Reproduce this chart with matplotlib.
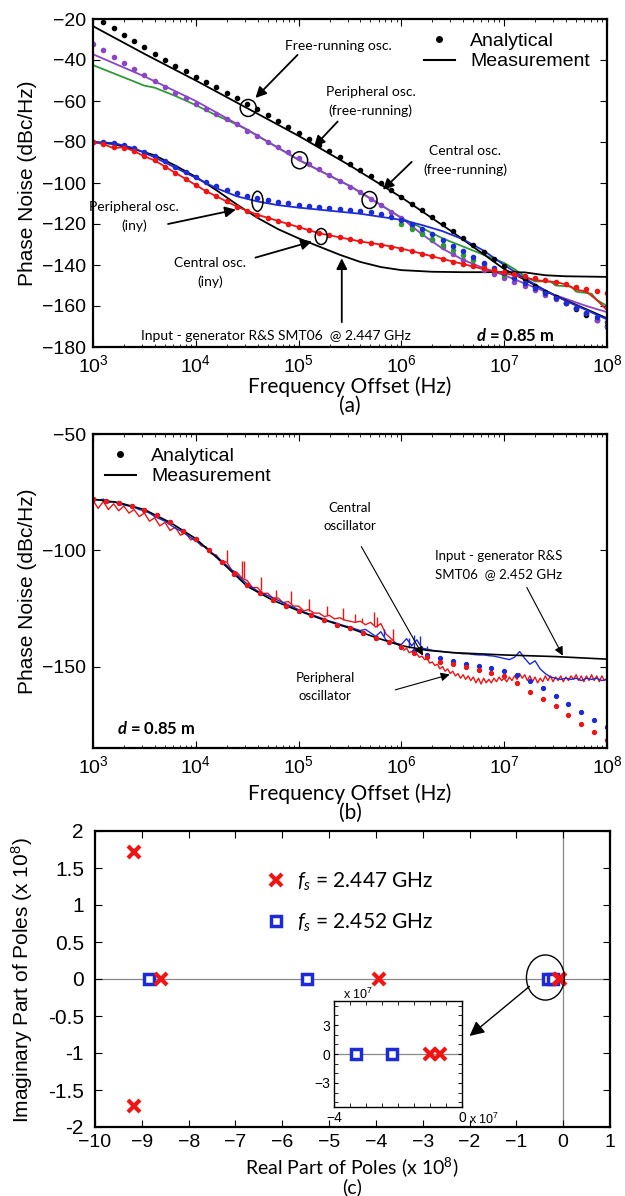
import numpy as np
import matplotlib
matplotlib.use("Agg")
import matplotlib.pyplot as plt
import matplotlib.transforms as mtransforms
from matplotlib.patches import Ellipse
from matplotlib.lines import Line2D

plt.rcParams['font.family'] = ['Liberation Sans', 'DejaVu Sans']
plt.rcParams['mathtext.fontset'] = 'custom'
plt.rcParams['mathtext.rm'] = 'Liberation Sans'
plt.rcParams['mathtext.it'] = 'Lato:italic'
plt.rcParams['mathtext.bf'] = 'Lato:bold'
plt.rcParams['mathtext.bfit'] = 'Lato:italic:bold'
CAL = 'Lato'

RED = '#f01414'
BLUE = '#1c2bd6'
PURPLE = '#8a45c8'
GREEN = '#2f9a33'

# ---------------- panel (a) data, x as log10(Hz) ----------------
fr_meas_e = [3.0, 3.5, 4.0, 4.5, 5.0, 5.5, 6.0, 6.5, 7.0, 7.5, 8.0]
fr_meas = [-23.5, -37, -50, -63.5, -77, -91.5, -107, -124, -142, -155, -166]
fr_dots = [-21.6, -24.6, -27.6, -30.7, -33.8, -36.9, -40.0, -43.0, -45.6, -48.2,
           -50.8, -53.4, -56.0, -58.6, -61.3, -64.0, -66.8, -69.6, -72.5, -75.5,
           -78.5, -81.5, -84.5, -87.5, -90.6, -93.7, -96.8, -100, -103.3, -106.6,
           -110, -113.4, -116.8, -120.2, -123.6, -127, -130.4, -133.8, -137.2, -140.6,
           -143.8, -147, -150, -153, -155.8, -158.6, -161.4, -164.2, -167, -169.8]

per_fr_e = [3.0, 3.5, 4.0, 4.5, 5.0, 5.5, 5.7, 6.0, 6.2, 6.4, 6.6, 6.8, 7.0, 7.2, 7.4, 7.6, 7.8, 8.0]
per_fr = [-37.2, -48, -60, -74, -88.7, -101.5, -107.5, -117, -125, -132, -137.5, -141.5,
          -145, -149, -153, -156.5, -160, -163]
per_fr_dots = [-32, -35.2, -38.3, -41.4, -44.4, -47.4, -50.3, -53.1, -55.9, -58.6,
               -61.3, -63.9, -66.4, -68.9, -71.4, -74.5, -77.2, -79.8, -82.4, -85,
               -87.8, -90.6, -93.4, -96.2, -99, -101.8, -104.6, -107.6, -110.8, -114,
               -117.2, -120.8, -124.4, -128, -131.4, -134.6, -137.4, -140, -142.3, -144.4,
               -146.4, -148.4, -150.4, -152.4, -154.4, -156.4, -158.6, -160.8, -163.4, -166.6, -170]

cen_fr_e = [3.0, 3.2, 3.4, 3.5, 3.6, 3.7, 3.8, 4.0, 4.2, 4.4, 4.5, 5.0, 5.5, 6.0,
            6.2, 6.4, 6.6, 6.8, 7.0, 7.1, 7.2, 7.3, 7.45, 7.5, 7.65, 7.7, 7.85, 7.9, 8.0]
cen_fr = [-42.5, -46.5, -50.5, -52.5, -53.5, -55.5, -57.5, -62, -67, -71.5, -74, -88.7,
          -101.5, -117, -122, -127, -131, -135, -139, -142, -145.5, -148, -148, -150,
          -150.5, -153, -154, -157, -160]
cen_fr_dots_e = [6.0, 6.1, 6.2, 6.3, 6.4, 6.5, 6.6, 6.7, 6.8, 6.9, 7.0]
cen_fr_dots = [-120, -122.5, -125, -127.5, -130, -132.5, -135, -137.5, -140, -142.5, -145]

per_iny_e = [3.0, 3.2, 3.4, 3.6, 3.8, 4.0, 4.2, 4.4, 4.6, 4.8, 5.0, 5.2, 5.4, 5.6, 5.8,
             6.0, 6.2, 6.4, 6.6, 6.8, 7.0, 7.2, 7.4, 7.6, 7.8, 8.0]
per_iny = [-80, -80.5, -83, -87.5, -92.5, -97.5, -102.5, -106.5, -109, -110.8, -112, -113,
           -114, -115, -116.5, -118, -120.5, -123.5, -127.5, -133, -140, -146.5, -152.5,
           -157.5, -162, -166.5]
per_iny_dots = [-80, -80, -80.5, -81.5, -83, -85, -87, -89.5, -92, -94.5,
                -97, -99.5, -101.5, -103.5, -105, -106.3, -107.4, -108.3, -109.1, -109.8,
                -110.5, -111, -111.5, -112, -112.5, -113, -113.6, -114.3, -115.2, -116.4,
                -118, -120, -122.4, -125, -127.8, -130.6, -133.4, -136.2, -139, -141.6,
                -144, -146.4, -148.8, -151.2, -153.6, -156, -158.4, -160.8, -163.2, -165.6, -168]

cen_iny = [-80, -81, -83, -82.5, -84.5, -87, -89, -92, -95, -98,
           -101, -104, -106.5, -109, -111.5, -113.5, -115.5, -117, -118.5, -120,
           -121.5, -123, -124.5, -125.5, -126.5, -127.5, -128.5, -129.3, -130, -131,
           -132, -133.2, -134.5, -135.8, -137, -138.3, -139.5, -140.8, -142, -143,
           -144, -145, -146.2, -147.2, -148, -148.3, -149.5, -152, -153, -157, -162]
cen_iny_dots = [-80, -81, -82.5, -83, -84.5, -87, -89, -92, -95, -98,
                -101, -104, -106.5, -109, -111.5, -113.5, -115.5, -117, -118.5, -120,
                -121.5, -123, -124.5, -125.5, -126.5, -127.5, -128.5, -129.3, -130, -131,
                -132, -133.2, -134.5, -135.8, -137, -138.3, -139.5, -140.5, -141.5, -142.5,
                -143.5, -144.5, -145.5, -146.5, -147.5, -148.5, -149.5, -150.5, -151.5, -152.5, -153.5]

gen_a_e = [3.0, 3.2, 3.4, 3.6, 3.8, 4.0, 4.2, 4.4, 4.6, 4.8, 5.0, 5.2, 5.4, 5.6, 5.8,
           6.0, 6.3, 6.6, 7.0, 7.2, 7.4, 7.6, 8.0]
gen_a = [-80, -81, -83.5, -86.5, -91.5, -97, -103.5, -110.5, -117, -122.5, -127, -131,
         -135, -138.5, -141, -142.5, -143.3, -143.5, -143.5, -143.6, -145, -145.5, -145.8]

# ---------------- panel (b) data ----------------
gen_b_e = [3.0, 3.25, 3.5, 3.75, 4.0, 4.25, 4.5, 4.75, 5.0, 5.25, 5.5, 5.75, 6.0, 6.25,
           6.5, 7.0, 7.5, 8.0]
gen_b = [-78, -79.5, -82.5, -88, -95, -105, -115.5, -121.5, -126, -130, -133.5, -137.5,
         -141, -143, -144, -145, -145.7, -146.8]

cen_b = [-78, -78.5, -78, -79.5, -79, -80, -80.5, -81, -81.5, -82.5, -83, -84, -85.5, -86.5,
         -87.5, -89, -90.5, -91.5, -93, -94.5, -96, -97.5, -99, -101, -102.5, -104.5, -106.5,
         -108.5, -110.5, -112.5, -114.5, -116, -117.5, -118.5, -119.5, -120.5, -121.5, -122.5,
         -123.5, -124.5, -125.5, -126.5, -127.3, -128, -128.8, -129.6, -130.4, -131, -131.8,
         -132.5, -133, -133.8, -134.5, -134, -135.5, -137, -135, -138.5, -139.5, -140, -140.5,
         -138, -141, -138.5, -142, -142.5, -143, -143.3, -143.5, -143.8, -144, -144.2, -144.5,
         -144.5, -144.8, -145, -145, -145.3, -145.5, -146, -146.5, -147, -146, -143.5, -146.5,
         -149, -147.5, -151, -153, -154.5, -155, -155.5, -155, -155.5, -155, -156, -155,
         -155.5, -155, -156, -155.5]
cen_b_spk_e = [5.83, 6.07, 6.12, 6.18, 6.25]
cen_b_spk_lo = [-137, -142, -142, -142.5, -143]
cen_b_spk_hi = [-134, -137.5, -136.5, -137, -141]

per_b_lo = [-78.5, -82, -79, -82.5, -80, -83, -81, -84, -82.5, -85.5, -84, -87.5, -86,
            -89.5, -88, -91.5, -90, -93.5, -92.5, -95.5, -95, -98, -98.5, -101.5, -102,
            -105, -105, -108.5, -109.5, -112, -113, -116, -116, -118.5, -118.5, -120.5,
            -120.5, -122.5, -122, -124, -124, -126, -125.5, -127, -127, -128.5, -128,
            -129.5, -129, -130, -130.5, -131, -130.5, -132, -131, -133, -131.5, -136,
            -138, -140, -141.5]
per_b_hi = [-143, -142, -144, -143.5, -145, -144.5, -146, -145.5, -147, -146.5, -148.5,
            -148, -149.5, -149, -151, -150, -152, -151, -153, -152, -154, -153, -155,
            -153.5, -155.5, -154, -156, -154.5, -157, -155, -157.5, -155, -157, -155.5,
            -157, -155, -156.5, -154.5, -156, -155, -156.5, -154.5, -156, -154, -155.5,
            -153, -155, -153.5, -156, -154, -156.5, -154.5, -157, -155, -156.5, -154,
            -156, -154, -156.5, -154.5, -156, -154, -156.5, -154.5, -156, -154, -155.5,
            -153.5, -156, -154, -156.5, -154, -156, -153.5, -156, -154, -156.5, -154,
            -156, -155]
per_b_spk_e = [4.30, 4.45, 4.47, 4.63, 4.78, 4.93, 5.10, 5.28, 5.43, 5.55, 5.62, 5.73, 5.76, 5.92]
per_b_spk_lo = [-105, -112, -112, -117, -120.5, -123, -126, -128, -130, -131, -131, -132, -133, -139]
per_b_spk_hi = [-100, -104.5, -104.5, -111.5, -117, -117.5, -121, -124, -125, -127.5, -129, -126.5, -128.5, -134]

dots_b_e = np.arange(3.0, 8.001, 0.125)
cen_b_dots = [-78, -78.8, -79.5, -80.8, -82.5, -85, -88, -91.5, -95, -100, -105, -110,
              -115, -118.5, -121.5, -124, -126, -128, -130, -132, -133.5, -135.5, -137.5,
              -139.5, -141.5, -143.5, -145, -146.5, -147.8, -148.8, -149.7, -150.8, -152,
              -153.8, -156, -159, -162.5, -166, -169.5, -173, -176]
per_b_dots = [-78, -78.8, -79.5, -80.8, -82.5, -85, -88, -91.5, -95, -100, -105, -110,
              -115, -118.5, -121.5, -124, -126, -128, -130, -132, -133.5, -135.5, -137.5,
              -139.5, -141.5, -144, -146, -148, -149, -150.2, -151.5, -152.7, -154, -157,
              -161, -164, -167, -171, -174.5, -178, -181.5]

# ---------------- panel (c) data (x 1e8) ----------------
red_re = [-9.17, -9.17, -8.6, -3.93, -0.10, -0.07]
red_im = [1.72, -1.72, 0, 0, 0, 0]
blue_re = [-8.85, -5.47, -0.33, -0.22]
blue_im = [0, 0, 0, 0]


def hz(e):
    return 10 ** np.asarray(e, dtype=float)


W, H = 625, 1196
fig = plt.figure(figsize=(W / 100, H / 100), dpi=100)


def box(l, t, r, b):
    return [l / W, 1 - b / H, (r - l) / W, (b - t) / H]


def style(ax, size=14):
    ax.tick_params(which='both', direction='in', top=True, right=True, labelsize=size)
    ax.tick_params(which='major', length=5, width=0.8, pad=5)
    ax.tick_params(which='minor', length=2.5, width=0.6)
    for s in ax.spines.values():
        s.set_linewidth(1.6)


def ring(ax, e, y, w, h):
    tr = fig.dpi_scale_trans + mtransforms.ScaledTranslation(10 ** e, y, ax.transData)
    ax.add_patch(Ellipse((0, 0), w / 100, h / 100, transform=tr, fill=False, ec='k', lw=1.1, zorder=6))


arw = dict(arrowstyle='-|>', color='k', lw=1.3, mutation_scale=16, shrinkA=0, shrinkB=0)
arw_thin = dict(arrowstyle='-|>', color='k', lw=0.8, mutation_scale=13, shrinkA=0, shrinkB=0)

# ================= (a) =================
ax = fig.add_axes(box(93, 19, 607, 347))
ax.set_xscale('log')
e51 = np.arange(3.0, 8.001, 0.1)
ax.plot(hz(cen_fr_e), cen_fr, color=GREEN, lw=1.3)
ax.plot(hz(per_fr_e), per_fr, color=PURPLE, lw=1.3)
ax.plot(hz(fr_meas_e), fr_meas, color='k', lw=1.3)
ax.plot(hz(gen_a_e), gen_a, color='k', lw=1.3)
ax.plot(hz(e51), cen_iny, color=RED, lw=1.3)
ax.plot(hz(per_iny_e), per_iny, color=BLUE, lw=1.3)
ax.plot(hz(e51[1:]), fr_dots, 'o', color='k', ms=3)
ax.plot(hz(e51), per_fr_dots, 'o', color=PURPLE, ms=3)
ax.plot(hz(cen_fr_dots_e), cen_fr_dots, 'o', color=GREEN, ms=3)
ax.plot(hz(e51), per_iny_dots, 'o', color=BLUE, ms=3)
ax.plot(hz(e51), cen_iny_dots, 'o', color=RED, ms=3)
ax.set_xlim(1e3, 1e8)
ax.set_ylim(-180, -20)
ax.set_yticks(np.arange(-180, -19, 20))
style(ax)

ring(ax, 4.51, -63.4, 16, 17)
ring(ax, 5.01, -88.9, 16, 17)
ring(ax, 5.69, -108.3, 15, 17)
ring(ax, 4.60, -108.9, 11, 20)
ring(ax, 5.22, -126.1, 12, 16)

tk = dict(family=CAL, fontsize=10, ha='center', va='center', linespacing=1.6)
tkb = dict(family=CAL, fontsize=9.5, ha='center', va='center', linespacing=1.6)
ax.text(10 ** 5.39, -33.1, 'Free-running osc.', **tk)
ax.annotate('', xy=(10 ** 4.58, -58.5), xytext=(10 ** 4.99, -37.5), arrowprops=arw)
ax.text(10 ** 5.70, -60.2, 'Peripheral osc.\n(free-running)', **tk)
ax.annotate('', xy=(10 ** 5.15, -82.3), xytext=(10 ** 5.38, -70), arrowprops=arw)
ax.text(10 ** 6.62, -89.2, 'Central osc.\n(free-running)', **tk)
ax.annotate('', xy=(10 ** 5.82, -103.3), xytext=(10 ** 6.10, -89.7), arrowprops=arw)
ax.text(10 ** 3.40, -116.2, 'Peripheral osc.\n(iny)', **tk)
ax.annotate('', xy=(10 ** 4.39, -113), xytext=(10 ** 3.73, -120), arrowprops=arw)
ax.text(10 ** 4.14, -143.6, 'Central osc.\n(iny)', **tk)
ax.annotate('', xy=(10 ** 5.13, -128.5), xytext=(10 ** 4.58, -136.4), arrowprops=arw)
ax.text(10 ** 4.78, -174.8, 'Input - generator R&S SMT06  @ 2.447 GHz', **tk)
ax.annotate('', xy=(10 ** 5.42, -136.7), xytext=(10 ** 5.42, -167.9), arrowprops=arw)
ax.text(10 ** 7.11, -174.4, r'$\mathbfit{d}$ = 0.85 m', family=CAL, fontweight='bold',
        fontsize=12, ha='center', va='center')

hl = [Line2D([], [], ls='none', marker='o', color='k', ms=4),
      Line2D([], [], color='k', lw=1.5)]
ax.legend(hl, ['Analytical', 'Measurement'], loc='upper right', bbox_to_anchor=(0.99, 0.995),
          frameon=False, fontsize=14, handlelength=1.6, labelspacing=0.15, borderaxespad=0.2,
          handletextpad=0.8)

fig.text(28 / W, 1 - 183 / H, 'Phase Noise (dBc/Hz)', rotation=90, ha='center', va='center', fontsize=15)
fig.text(350 / W, 1 - 387 / H, 'Frequency Offset (Hz)', family=CAL, ha='center', va='center', fontsize=15)
fig.text(350 / W, 1 - 406 / H, '(a)', family=CAL, ha='center', va='center', fontsize=15)

# ================= (b) =================
ax = fig.add_axes(box(93, 434, 607, 748))
ax.set_xscale('log')
e101 = np.linspace(3.0, 8.0, len(cen_b))
ax.plot(hz(np.linspace(3.0, 6.0, len(per_b_lo))), per_b_lo, color=RED, lw=1.0)
ax.plot(hz(np.linspace(6.025, 8.0, len(per_b_hi))), per_b_hi, color=RED, lw=1.0)
ax.vlines(hz(per_b_spk_e), per_b_spk_lo, per_b_spk_hi, color=RED, lw=1.0)
ax.plot(hz(e101), cen_b, color=BLUE, lw=1.0)
ax.vlines(hz(cen_b_spk_e), cen_b_spk_lo, cen_b_spk_hi, color=BLUE, lw=1.0)
ax.plot(hz(gen_b_e), gen_b, color='k', lw=1.2)
ax.plot(hz(dots_b_e), cen_b_dots, 'o', color=BLUE, ms=2.8)
ax.plot(hz(dots_b_e), per_b_dots, 'o', color=RED, ms=2.8)
ax.set_xlim(1e3, 1e8)
ax.set_ylim(-185, -50)
ax.set_yticks([-150, -100, -50])
style(ax)

ax.text(10 ** 5.50, -85.5, 'Central\noscillator', **tkb)
ax.annotate('', xy=(10 ** 6.21, -145.3), xytext=(10 ** 5.61, -98.4), arrowprops=arw_thin)
ax.text(10 ** 6.95, -106.5, 'Input - generator R&S\nSMT06  @ 2.452 GHz', **tkb)
ax.annotate('', xy=(10 ** 7.57, -145.3), xytext=(10 ** 7.22, -116), arrowprops=arw_thin)
ax.text(10 ** 5.26, -158.8, 'Peripheral\noscillator', **tkb)
ax.annotate('', xy=(10 ** 6.47, -153.4), xytext=(10 ** 5.94, -160), arrowprops=arw_thin)
ax.text(10 ** 3.62, -176.8, r'$\mathbfit{d}$ = 0.85 m', family=CAL, fontweight='bold',
        fontsize=12, ha='center', va='center')
ax.legend(hl, ['Analytical', 'Measurement'], loc='upper left', bbox_to_anchor=(0.0, 0.995),
          frameon=False, fontsize=14, handlelength=1.6, labelspacing=0.15, borderaxespad=0.2,
          handletextpad=0.8)

fig.text(28 / W, 1 - 591 / H, 'Phase Noise (dBc/Hz)', rotation=90, ha='center', va='center', fontsize=15)
fig.text(350 / W, 1 - 794 / H, 'Frequency Offset (Hz)', family=CAL, ha='center', va='center', fontsize=15)
fig.text(350 / W, 1 - 813 / H, '(b)', family=CAL, ha='center', va='center', fontsize=15)

# ================= (c) =================
ax = fig.add_axes(box(95, 831, 610, 1127))
ax.axhline(0, color='#888888', lw=0.9, zorder=1)
ax.axvline(0, color='#888888', lw=0.9, zorder=1)
hr, = ax.plot(red_re, red_im, 'x', color=RED, ms=9, mew=3, ls='none', zorder=4)
hb, = ax.plot(blue_re, blue_im, 's', color=BLUE, mfc='white', ms=7, mew=2.5, ls='none', zorder=3)
ax.set_xlim(-10, 1)
ax.set_ylim(-2, 2)
ax.set_xticks(np.arange(-10, 1.1, 1))
ax.set_yticks(np.arange(-2, 2.01, 0.5))
ax.set_yticklabels(['-2', '-1.5', '-1', '-0.5', '0', '0.5', '1', '1.5', '2'])
style(ax, 15)
ax.tick_params(axis='x', which='major', pad=5, labelsize=14)
ax.tick_params(axis='y', which='major', pad=8)
ax.add_patch(Ellipse((-0.38, 0.02), 0.81, 0.61, fill=False, ec='k', lw=1.0, zorder=5))
ax.annotate('', xy=(-2.0, -0.77), xytext=(-0.72, -0.1), arrowprops=dict(arrowstyle='-|>', color='k', lw=1.0, mutation_scale=22, shrinkA=0, shrinkB=0))
ax.legend([hr, hb], [r'$f_s$ = 2.447 GHz', r'$f_s$ = 2.452 GHz'], loc='upper left',
          bbox_to_anchor=(0.295, 0.93), frameon=False, prop=dict(family=CAL, size=15),
          handlelength=1.0, labelspacing=0.9, handletextpad=0.5)

fig.text(22 / W, 1 - 980 / H, r'Imaginary Part of Poles (x 10$^8$)', rotation=90, ha='center', va='center', fontsize=15)
fig.text(352 / W, 1 - 1168 / H, r'Real Part of Poles (x 10$^8$)', family=CAL, ha='center', va='center', fontsize=14)
fig.text(352 / W, 1 - 1187 / H, '(c)', family=CAL, ha='center', va='center', fontsize=14)

# inset
ins = fig.add_axes(box(334, 1001, 462, 1107))
ins.axhline(0, color='#888888', lw=0.9, zorder=1)
ins.plot(np.array(red_re[4:]) * 10, red_im[4:], 'x', color=RED, ms=8, mew=3, ls='none', zorder=4)
ins.plot(np.array(blue_re[2:]) * 10, blue_im[2:], 's', color=BLUE, mfc='white', ms=7, mew=2.5, ls='none', zorder=3)
ins.set_xlim(-4, 0)
ins.set_ylim(-5.5, 5.5)
ins.set_xticks([-4, 0])
ins.set_xticks(np.arange(-4, 0.01, 0.5), minor=True)
ins.set_yticks([-3, 0, 3])
ins.set_yticks(np.arange(-5, 5.01, 1), minor=True)
ins.tick_params(which='both', direction='in', top=True, right=True, labelsize=10, length=3, pad=3)
for s in ins.spines.values():
    s.set_linewidth(1.0)
fig.text(358 / W, 1 - 994 / H, r'x 10$^7$', fontsize=9, ha='center', va='center')
fig.text(484 / W, 1 - 1119 / H, r'x 10$^7$', fontsize=9, ha='center', va='center')

fig.savefig('out.png', dpi=100)
